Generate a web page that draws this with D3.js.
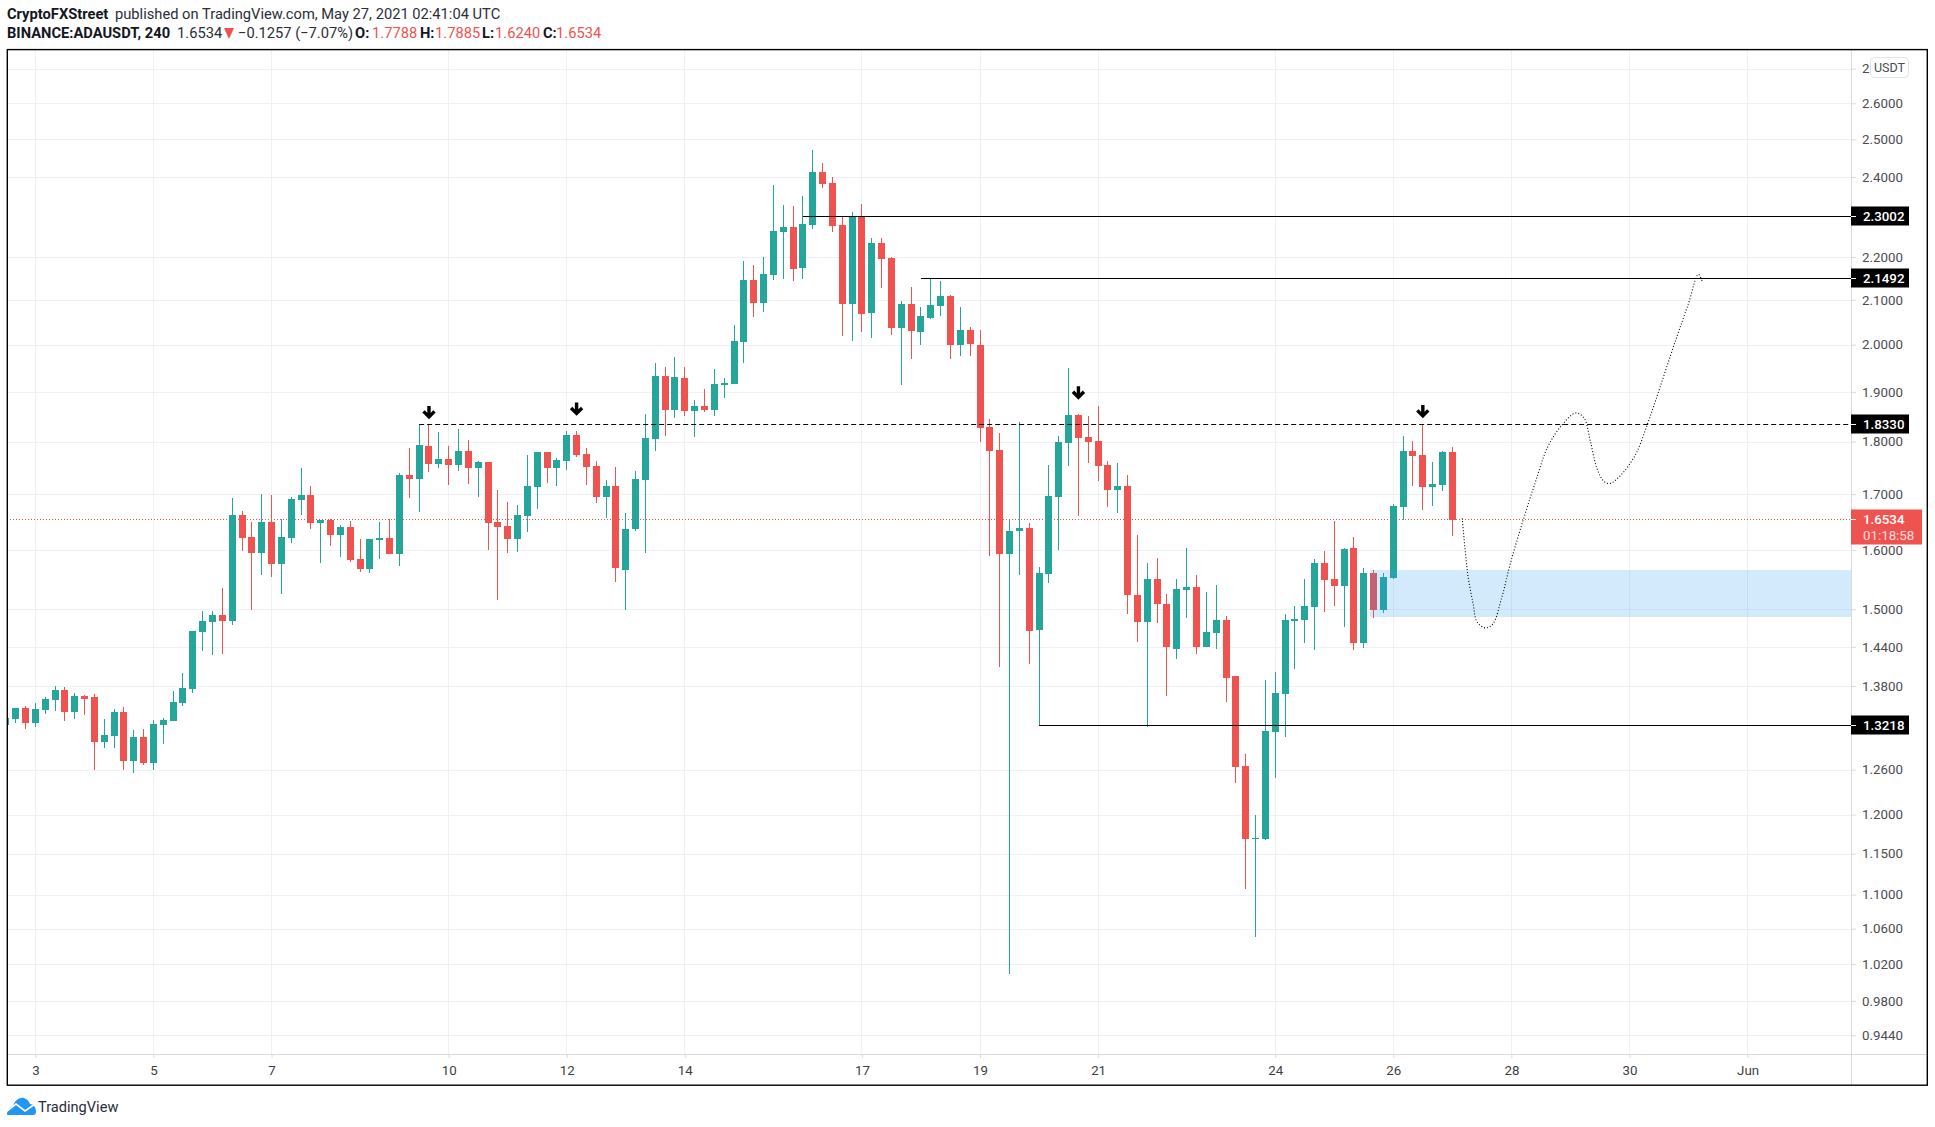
<!DOCTYPE html>
<html>
<head>
<meta charset="utf-8">
<style>
  html, body { margin: 0; background: #fff; }
  svg { display: block; }
  text { font-family: Roboto, sans-serif; }
  .price-axis text, .time-axis text { font-size: 13.3px; fill: #4a4c52; }
  .time-axis text { fill: #3c3e44; }
</style>
<script src="https://cdn.jsdelivr.net/npm/d3@7"></script>
</head>
<body>
<div id="chart"></div>
<script>
// 4h candles, first one is 12h before May 3 00:00 UTC
let firstCandle = Date.UTC(2021, 4, 2, 12)
let candleMs = 4 * 3600 * 1000

let opens = [
  1.322, 1.332, 1.348, 1.326, 1.345, 1.359, 1.374, 1.342, 1.365, 1.364,
  1.299, 1.307, 1.342, 1.272, 1.306, 1.269, 1.323, 1.329, 1.355, 1.376,
  1.463, 1.480, 1.491, 1.481, 1.662, 1.623, 1.595, 1.649, 1.576, 1.621,
  1.689, 1.698, 1.648, 1.653, 1.626, 1.641, 1.585, 1.567, 1.618, 1.621,
  1.593, 1.736, 1.729, 1.792, 1.757, 1.766, 1.755, 1.782, 1.749, 1.760,
  1.649, 1.642, 1.619, 1.660, 1.713, 1.780, 1.749, 1.762, 1.813, 1.776,
  1.753, 1.695, 1.715, 1.566, 1.637, 1.727, 1.805, 1.933, 1.863, 1.929,
  1.861, 1.871, 1.863, 1.914, 1.917, 2.006, 2.146, 2.093, 2.158, 2.261,
  2.273, 2.174, 2.278, 2.413, 2.385, 2.278, 2.091, 2.299, 2.070, 2.234,
  2.198, 2.037, 2.091, 2.028, 2.059, 2.086, 2.109, 1.999, 2.032, 2.000,
  1.829, 1.784, 1.593, 1.633, 1.638, 1.467, 1.559, 1.695, 1.798, 1.853,
  1.809, 1.801, 1.755, 1.708, 1.715, 1.524, 1.480, 1.551, 1.509, 1.437,
  1.532, 1.537, 1.440, 1.462, 1.483, 1.395, 1.265, 1.168, 1.168, 1.313,
  1.368, 1.481, 1.483, 1.504, 1.578, 1.551, 1.539, 1.604, 1.446, 1.560,
  1.499, 1.552, 1.677, 1.782, 1.774, 1.713, 1.717, 1.7788
]
let highs = [
  1.333, 1.348, 1.351, 1.355, 1.364, 1.380, 1.379, 1.370, 1.367, 1.368,
  1.332, 1.346, 1.349, 1.316, 1.317, 1.330, 1.333, 1.373, 1.400, 1.465,
  1.498, 1.498, 1.535, 1.693, 1.669, 1.649, 1.700, 1.698, 1.654, 1.695,
  1.749, 1.715, 1.653, 1.654, 1.644, 1.651, 1.619, 1.619, 1.649, 1.655,
  1.740, 1.788, 1.833, 1.833, 1.819, 1.792, 1.825, 1.803, 1.762, 1.760,
  1.708, 1.685, 1.680, 1.774, 1.780, 1.780, 1.768, 1.821, 1.821, 1.788,
  1.762, 1.727, 1.751, 1.666, 1.744, 1.855, 1.961, 1.952, 1.974, 1.952,
  1.883, 1.906, 1.948, 1.929, 2.044, 2.191, 2.181, 2.200, 2.380, 2.328,
  2.326, 2.351, 2.472, 2.437, 2.400, 2.298, 2.311, 2.331, 2.246, 2.246,
  2.200, 2.097, 2.130, 2.084, 2.149, 2.144, 2.111, 2.084, 2.039, 2.032,
  1.845, 1.817, 1.653, 1.839, 1.648, 1.571, 1.755, 1.811, 1.950, 1.855,
  1.851, 1.871, 1.762, 1.759, 1.736, 1.626, 1.578, 1.586, 1.525, 1.551,
  1.604, 1.557, 1.528, 1.540, 1.489, 1.395, 1.281, 1.200, 1.389, 1.401,
  1.493, 1.506, 1.551, 1.585, 1.598, 1.651, 1.604, 1.623, 1.569, 1.566,
  1.560, 1.682, 1.811, 1.801, 1.833, 1.760, 1.782, 1.7885
]
let lows = [
  1.321, 1.326, 1.317, 1.320, 1.339, 1.343, 1.329, 1.332, 1.337, 1.260,
  1.290, 1.290, 1.260, 1.256, 1.267, 1.260, 1.296, 1.329, 1.351, 1.370,
  1.434, 1.427, 1.429, 1.475, 1.598, 1.499, 1.557, 1.554, 1.525, 1.612,
  1.662, 1.637, 1.578, 1.607, 1.588, 1.579, 1.562, 1.560, 1.585, 1.593,
  1.572, 1.693, 1.668, 1.742, 1.749, 1.717, 1.744, 1.719, 1.695, 1.600,
  1.515, 1.595, 1.597, 1.631, 1.673, 1.721, 1.715, 1.745, 1.770, 1.717,
  1.684, 1.657, 1.546, 1.499, 1.633, 1.595, 1.782, 1.811, 1.847, 1.851,
  1.809, 1.859, 1.851, 1.887, 1.917, 1.961, 2.061, 2.073, 2.146, 2.148,
  2.144, 2.148, 2.268, 2.372, 2.261, 2.019, 2.008, 2.028, 2.015, 2.127,
  2.021, 1.914, 1.969, 1.999, 2.057, 2.064, 1.969, 1.976, 1.976, 1.800,
  1.590, 1.409, 1.009, 1.557, 1.413, 1.322, 1.544, 1.600, 1.753, 1.660,
  1.759, 1.725, 1.677, 1.666, 1.493, 1.448, 1.320, 1.478, 1.365, 1.421,
  1.486, 1.429, 1.439, 1.437, 1.356, 1.242, 1.107, 1.050, 1.167, 1.248,
  1.306, 1.406, 1.446, 1.435, 1.496, 1.506, 1.471, 1.435, 1.438, 1.486,
  1.494, 1.551, 1.653, 1.715, 1.671, 1.679, 1.706, 1.6240
]
let closes = [
  1.333, 1.348, 1.326, 1.346, 1.361, 1.374, 1.342, 1.365, 1.361, 1.299,
  1.309, 1.342, 1.272, 1.306, 1.269, 1.324, 1.330, 1.356, 1.377, 1.465,
  1.481, 1.491, 1.481, 1.662, 1.621, 1.595, 1.649, 1.576, 1.623, 1.691,
  1.698, 1.648, 1.653, 1.626, 1.641, 1.583, 1.567, 1.619, 1.621, 1.593,
  1.736, 1.729, 1.794, 1.757, 1.766, 1.755, 1.782, 1.749, 1.760, 1.648,
  1.641, 1.619, 1.662, 1.715, 1.780, 1.749, 1.764, 1.813, 1.774, 1.751,
  1.695, 1.715, 1.569, 1.637, 1.729, 1.807, 1.933, 1.863, 1.931, 1.861,
  1.871, 1.863, 1.917, 1.919, 2.008, 2.146, 2.093, 2.160, 2.263, 2.273,
  2.171, 2.281, 2.413, 2.382, 2.276, 2.091, 2.299, 2.068, 2.234, 2.195,
  2.037, 2.091, 2.030, 2.064, 2.088, 2.109, 1.999, 2.032, 2.002, 1.827,
  1.782, 1.593, 1.633, 1.638, 1.465, 1.560, 1.696, 1.800, 1.853, 1.807,
  1.800, 1.753, 1.708, 1.715, 1.524, 1.480, 1.551, 1.508, 1.439, 1.534,
  1.537, 1.440, 1.463, 1.483, 1.392, 1.264, 1.169, 1.170, 1.314, 1.370,
  1.483, 1.485, 1.506, 1.578, 1.549, 1.539, 1.602, 1.446, 1.560, 1.499,
  1.554, 1.678, 1.782, 1.772, 1.713, 1.719, 1.779, 1.6534
]

let priceTicks = [2.7, 2.6, 2.5, 2.4, 2.2, 2.1, 2.0, 1.9, 1.8, 1.7, 1.6, 1.5, 1.44, 1.38, 1.26, 1.2, 1.15, 1.1, 1.06, 1.02, 0.98, 0.944]
let dayTicks = [[4, 3], [4, 5], [4, 7], [4, 10], [4, 12], [4, 14], [4, 17], [4, 19], [4, 21], [4, 24], [4, 26], [4, 28], [4, 30], [5, 1]]

// horizontal levels: price, first candle they start from, dashed or not
let levels = [
  { price: 2.3002, from: 78, dash: null },
  { price: 2.1492, from: 90, dash: null },
  { price: 1.833, from: 39, dash: '5,3' },
  { price: 1.3218, from: 102, dash: null }
]
let lastPrice = 1.6534
let zoneTop = 1.5654
let zoneBottom = 1.4875
let zoneFrom = 136
let arrowCandles = [40, 55, 106, 141]
let arrowPrices = [1.859, 1.866, 1.899, 1.861]

// hand drawn forecast, candle number from May 3 00:00 and price
let forecastCandles = [145.0, 145.3, 145.6, 146.1, 146.5, 147.35, 148.1, 149.0, 149.9, 151.2, 152.45, 153.7, 155.15, 156.55, 157.4, 158.0, 158.7, 159.45, 160.05, 161.05, 162.6, 163.8, 164.67, 166.7, 168.0, 169.0, 169.4]
let forecastPrices = [1.656, 1.600, 1.554, 1.510, 1.480, 1.470, 1.476, 1.518, 1.577, 1.653, 1.723, 1.790, 1.833, 1.857, 1.846, 1.803, 1.748, 1.723, 1.720, 1.734, 1.774, 1.833, 1.883, 2.010, 2.092, 2.159, 2.142]

let plot = { left: 7, right: 1851, top: 50, bottom: 1054 }

let x = d3.scaleUtc()
  .domain([new Date(Date.UTC(2021, 4, 3)), new Date(Date.UTC(2021, 5, 1))])
  .range([35.39, 1747.55])
let y = d3.scaleLog().domain([0.944, 2.6]).range([1035.3, 103.3])

let candleDate = (i) => new Date(firstCandle + i * candleMs)
let forecastDate = (c) => new Date(Date.UTC(2021, 4, 3) + c * candleMs)
let px = (d) => Math.floor(x(d))

let candles = opens.map((o, i) => ({
  date: candleDate(i), o: o, h: highs[i], l: lows[i], c: closes[i]
}))

let svg = d3.select('#chart').append('svg')
  .attr('width', 1935)
  .attr('height', 1127)

let defs = svg.append('defs')
defs.append('clipPath').attr('id', 'plot-clip').append('rect')
  .attr('x', plot.left)
  .attr('y', plot.top)
  .attr('width', plot.right - plot.left)
  .attr('height', plot.bottom - plot.top)

// grid
// -------------
let dayDates = dayTicks.map((d) => new Date(Date.UTC(2021, d[0], d[1])))
let grid = svg.append('g').attr('shape-rendering', 'crispEdges')
grid.selectAll('.vgrid')
  .data(dayDates)
  .enter().append('line')
  .attr('x1', (d) => px(d) + 0.5)
  .attr('x2', (d) => px(d) + 0.5)
  .attr('y1', plot.top)
  .attr('y2', plot.bottom)
  .attr('stroke', '#f0f1f4')
grid.selectAll('.hgrid')
  .data(priceTicks)
  .enter().append('line')
  .attr('x1', plot.left)
  .attr('x2', plot.right)
  .attr('y1', (d) => Math.round(y(d)) + 0.5)
  .attr('y2', (d) => Math.round(y(d)) + 0.5)
  .attr('stroke', '#f0f1f4')

// last price line goes under the candles
svg.append('line')
  .attr('x1', plot.left)
  .attr('x2', plot.right)
  .attr('y1', Math.floor(y(lastPrice)) + 0.5)
  .attr('y2', Math.floor(y(lastPrice)) + 0.5)
  .attr('stroke', '#ef5350')
  .attr('stroke-dasharray', '1,2')

// candles
// -------------
let candleLayer = svg.append('g')
  .attr('clip-path', 'url(#plot-clip)')
  .attr('shape-rendering', 'crispEdges')
let candle = candleLayer.selectAll('.candle')
  .data(candles)
  .enter().append('g')
  .attr('class', 'candle')
  .attr('fill', (d) => d.c >= d.o ? '#26a69a' : '#ef5350')
candle.append('rect')
  .attr('x', (d) => px(d.date))
  .attr('width', 1)
  .attr('y', (d) => Math.round(y(d.h)))
  .attr('height', (d) => Math.round(y(d.l)) - Math.round(y(d.h)))
candle.append('rect')
  .attr('x', (d) => px(d.date) - 3)
  .attr('width', 7)
  .attr('y', (d) => Math.round(y(Math.max(d.o, d.c))))
  .attr('height', (d) => Math.max(1, Math.round(y(Math.min(d.o, d.c))) - Math.round(y(Math.max(d.o, d.c)))))

// drawings on top of the candles
// -------------
svg.append('rect')
  .attr('x', px(candleDate(zoneFrom + 3)) - 3)
  .attr('y', y(zoneTop))
  .attr('width', plot.right - px(candleDate(zoneFrom + 3)) + 3)
  .attr('height', y(zoneBottom) - y(zoneTop))
  .attr('fill', '#2196f3')
  .attr('fill-opacity', 0.2)

svg.append('g').selectAll('line')
  .data(levels)
  .enter().append('line')
  .attr('x1', (d) => x(candleDate(d.from + 3)))
  .attr('x2', plot.right)
  .attr('y1', (d) => Math.floor(y(d.price)) + 0.5)
  .attr('y2', (d) => Math.floor(y(d.price)) + 0.5)
  .attr('stroke', '#000')
  .attr('stroke-width', 1.2)
  .attr('stroke-dasharray', (d) => d.dash)

let forecastLine = d3.line()
  .x((d) => x(forecastDate(d)))
  .y((d, i) => y(forecastPrices[i]))
  .curve(d3.curveCatmullRom)
svg.append('path')
  .attr('d', forecastLine(forecastCandles))
  .attr('fill', 'none')
  .attr('stroke', '#000')
  .attr('stroke-width', 1.1)
  .attr('stroke-dasharray', '1,2')

svg.append('g').selectAll('path')
  .data(arrowCandles)
  .enter().append('path')
  .attr('transform', (d, i) => 'translate(' + x(candleDate(d + 3)) + ',' + y(arrowPrices[i]) + ')')
  .attr('d', 'M0,-6V5M-5.5,-0.5L0,5L5.5,-0.5')
  .attr('fill', 'none')
  .attr('stroke', '#000')
  .attr('stroke-width', 3.4)

// axes
// -------------
let timeAxis = d3.axisBottom(x)
  .tickValues(dayDates)
  .tickSize(4)
  .tickPadding(8)
  .tickFormat((d) => d.getUTCDate() === 1 ? 'Jun' : d.getUTCDate())
svg.append('g')
  .attr('class', 'time-axis')
  .attr('transform', 'translate(0,' + plot.bottom + ')')
  .call(timeAxis)
  .call((g) => g.select('.domain').remove())
  .call((g) => g.selectAll('line').attr('stroke', '#d9dadf'))
  .call((g) => g.selectAll('text').attr('font-family', 'Roboto'))

let priceAxis = d3.axisRight(y)
  .tickValues(priceTicks)
  .tickSize(5)
  .tickPadding(6)
  .tickFormat(d3.format('.4f'))
svg.append('g')
  .attr('class', 'price-axis')
  .attr('transform', 'translate(' + plot.right + ',0)')
  .call(priceAxis)
  .call((g) => g.select('.domain').remove())
  .call((g) => g.selectAll('line').attr('stroke', '#d9dadf'))
  .call((g) => g.selectAll('text').attr('font-family', 'Roboto'))

let frame = svg.append('g').attr('shape-rendering', 'crispEdges')
frame.append('line').attr('x1', plot.right + 0.5).attr('x2', plot.right + 0.5).attr('y1', plot.top).attr('y2', 1085).attr('stroke', '#d9dadf')
frame.append('line').attr('x1', plot.left).attr('x2', 1927).attr('y1', plot.bottom + 0.5).attr('y2', plot.bottom + 0.5).attr('stroke', '#d9dadf')
svg.append('rect')
  .attr('x', 7.3)
  .attr('y', 49.6)
  .attr('width', 1920)
  .attr('height', 1035.6)
  .attr('fill', 'none')
  .attr('stroke', '#000')
  .attr('stroke-width', 1.4)

// price labels
let labels = svg.append('g').selectAll('g')
  .data(levels)
  .enter().append('g')
  .attr('transform', (d) => 'translate(' + plot.right + ',' + Math.floor(y(d.price)) + ')')
labels.append('rect')
  .attr('y', -9.5)
  .attr('width', 58)
  .attr('height', 19)
  .attr('fill', '#000')
labels.append('line')
  .attr('x2', 5)
  .attr('y1', 0.5)
  .attr('y2', 0.5)
  .attr('stroke', '#fff')
labels.append('text')
  .attr('x', 12)
  .attr('y', 0)
  .attr('dy', '.36em')
  .attr('fill', '#fff')
  .attr('font-size', 13.3)
  .attr('font-weight', 500)
  .text((d) => d.price.toFixed(4))

let lastLabel = svg.append('g')
  .attr('transform', 'translate(' + plot.right + ',' + Math.floor(y(lastPrice)) + ')')
lastLabel.append('rect')
  .attr('y', -9.5)
  .attr('width', 71)
  .attr('height', 35)
  .attr('fill', '#ef5350')
lastLabel.append('line')
  .attr('x2', 5)
  .attr('y1', 0.5)
  .attr('y2', 0.5)
  .attr('stroke', '#fff')
lastLabel.append('text')
  .attr('x', 12)
  .attr('y', 0)
  .attr('dy', '.4em')
  .attr('fill', '#fff')
  .attr('font-size', 13.3)
  .attr('font-weight', 500)
  .text(lastPrice.toFixed(4))
lastLabel.append('text')
  .attr('x', 12)
  .attr('y', 17)
  .attr('dy', '.32em')
  .attr('fill', '#fdd')
  .attr('font-size', 13.3)
  .text('01:18:58')

// currency badge hides most of the top tick
svg.append('rect')
  .attr('x', 1870.5)
  .attr('y', 57.5)
  .attr('width', 38)
  .attr('height', 20)
  .attr('rx', 4)
  .attr('fill', '#fff')
  .attr('stroke', '#e0e3eb')
svg.append('text')
  .attr('x', 1889.5)
  .attr('y', 67.5)
  .attr('dy', '.35em')
  .attr('text-anchor', 'middle')
  .attr('font-size', 12.5)
  .attr('fill', '#4a4c52')
  .text('USDT')

// header
// -------------
let headerOne = [
  { x: 7, text: 'CryptoFXStreet', weight: 700, fill: '#131722' },
  { x: 115, text: 'published on TradingView.com, May 27, 2021 02:41:04 UTC', weight: 400, fill: '#2a2e39' }
]
let headerTwo = [
  { x: 7, text: 'BINANCE:ADAUSDT, 240', weight: 700, fill: '#131722' },
  { x: 177, text: '1.6534', weight: 400, fill: '#2a2e39' },
  { x: 238, text: '\u22120.1257 (\u22127.07%)', weight: 400, fill: '#2a2e39' },
  { x: 355, text: 'O:', weight: 700, fill: '#131722' },
  { x: 372, text: '1.7788', weight: 400, fill: '#ef5350' },
  { x: 420, text: 'H:', weight: 700, fill: '#131722' },
  { x: 435, text: '1.7885', weight: 400, fill: '#ef5350' },
  { x: 482, text: 'L:', weight: 700, fill: '#131722' },
  { x: 495, text: '1.6240', weight: 400, fill: '#ef5350' },
  { x: 543, text: 'C:', weight: 700, fill: '#131722' },
  { x: 556, text: '1.6534', weight: 400, fill: '#ef5350' }
]
let drawHeader = (rows, baseline) => {
  svg.append('g').selectAll('text')
    .data(rows)
    .enter().append('text')
    .attr('x', (d) => d.x)
    .attr('y', baseline)
    .attr('font-size', 14.7)
    .attr('font-weight', (d) => d.weight)
    .attr('fill', (d) => d.fill)
    .text((d) => d.text)
}
drawHeader(headerOne, 19)
drawHeader(headerTwo, 38)
svg.append('path')
  .attr('d', 'M224,28H234L229,39Z')
  .attr('fill', '#ef5350')

// logo
let logo = svg.append('g').attr('transform', 'translate(7,1097)')
logo.append('path')
  .attr('d', 'M0,18C0,13 2,10 6,9C8,3 13,0 17,1C20,2 22,4 23,7C27,7 29,11 29,15C29,17 28,18 26,18Z')
  .attr('fill', '#2196f3')
logo.append('path')
  .attr('d', 'M0,14L9,7L18,14L28,7')
  .attr('fill', 'none')
  .attr('stroke', '#fff')
  .attr('stroke-width', 1.6)
svg.append('text')
  .attr('x', 38)
  .attr('y', 1112)
  .attr('font-size', 14.6)
  .attr('fill', '#2a2e39')
  .text('TradingView')
</script>
</body>
</html>
